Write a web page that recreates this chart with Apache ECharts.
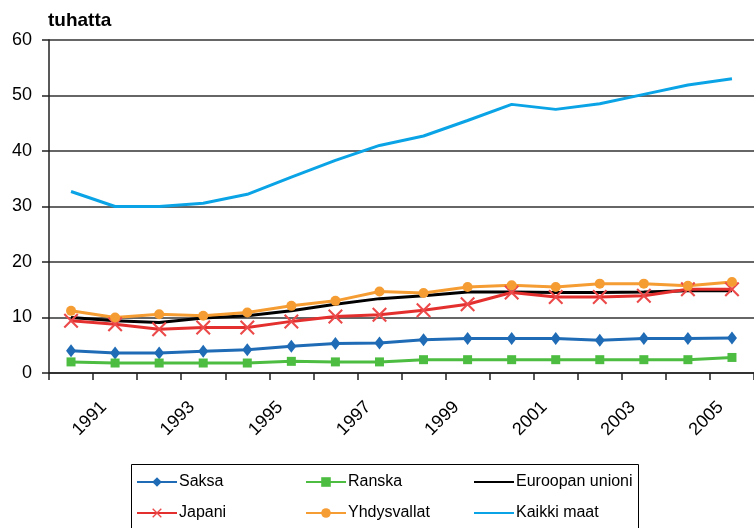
<!DOCTYPE html>
<html>
<head>
<meta charset="utf-8">
<script src="https://cdn.jsdelivr.net/npm/echarts@6/dist/echarts.min.js"></script>
<style>
  html, body { margin: 0; padding: 0; background: #fff; }
  #chart { width: 754px; height: 528px; }
</style>
</head>
<body>
<div id="chart"></div>
<script>
const years = ['1990','1991','1992','1993','1994','1995','1996','1997','1998','1999','2000','2001','2002','2003','2004','2005'];
const shownYearLabels = ['1991','1993','1995','1997','1999','2001','2003','2005'];
const yTicks = [0, 10, 20, 30, 40, 50, 60];

const saksa       = [4.0, 3.6, 3.6, 3.9, 4.2, 4.8, 5.3, 5.4, 6.0, 6.2, 6.2, 6.2, 5.9, 6.2, 6.2, 6.3];
const ranska      = [2.0, 1.8, 1.8, 1.8, 1.8, 2.1, 2.0, 2.0, 2.4, 2.4, 2.4, 2.4, 2.4, 2.4, 2.4, 2.8];
const euroopanUnioni = [10.0, 9.4, 9.1, 9.9, 10.3, 11.2, 12.4, 13.4, 13.9, 14.6, 14.6, 14.5, 14.5, 14.6, 14.8, 14.8];
const japani      = [9.4, 8.8, 7.9, 8.2, 8.2, 9.3, 10.2, 10.5, 11.3, 12.4, 14.5, 13.7, 13.7, 13.9, 15.1, 15.1];
const yhdysvallat = [11.2, 10.0, 10.6, 10.3, 10.9, 12.1, 13.0, 14.7, 14.4, 15.5, 15.8, 15.5, 16.1, 16.1, 15.7, 16.4];
const kaikkiMaat  = [32.7, 30.0, 30.0, 30.6, 32.2, 35.3, 38.3, 41.0, 42.7, 45.5, 48.4, 47.5, 48.5, 50.2, 51.9, 53.0];

const seriesNames = ['Saksa', 'Ranska', 'Euroopan unioni', 'Japani', 'Yhdysvallat', 'Kaikki maat'];

const FONT = '"Liberation Sans", Arial, sans-serif';
const xPath = 'path://M0,1L1,0L5,4L9,0L10,1L6,5L10,9L9,10L5,6L1,10L0,9L4,5Z';

const chart = echarts.init(document.getElementById('chart'), null, { renderer: 'canvas' });

function mkLegend(name, left, top, noMarker) {
  const lg = {
    data: [name], left: left, top: top, padding: 0,
    itemWidth: 40, itemHeight: 12, itemGap: 0,
    textStyle: { fontFamily: FONT, fontSize: 16, color: '#000', padding: [0, 0, 0, -3] },
    selectedMode: false
  };
  if (noMarker) lg.itemStyle = { opacity: 0 };
  return lg;
}

const option = {
  animation: false,
  backgroundColor: '#fff',
  title: {
    text: 'tuhatta', left: 48, top: 11, padding: 0,
    textStyle: { fontFamily: FONT, fontSize: 19, fontWeight: 'bold', color: '#000' }
  },
  legend: [
    mkLegend(seriesNames[0], 136, 474),
    mkLegend(seriesNames[1], 305, 474),
    mkLegend(seriesNames[2], 473, 474, true),
    mkLegend(seriesNames[3], 136, 505),
    mkLegend(seriesNames[4], 305, 505),
    mkLegend(seriesNames[5], 473, 505, true)
  ],
  graphic: [{
    type: 'rect', silent: true,
    shape: { x: 131.5, y: 464.5, width: 507, height: 80 },
    style: { fill: 'none', stroke: '#000', lineWidth: 1 }
  }],
  grid: { left: 49, top: 40, width: 711, height: 333 },
  xAxis: {
    type: 'category', data: years, boundaryGap: true,
    axisLine: { lineStyle: { color: '#222', width: 1.5 } },
    axisTick: { show: true, interval: 0, length: 7, lineStyle: { color: '#222', width: 1.5 } },
    axisLabel: {
      interval: 0, rotate: 45, margin: 20,
      fontFamily: FONT, fontSize: 18, color: '#000',
      padding: [0, 16, 0, 0],
      formatter: v => shownYearLabels.includes(v) ? v : ''
    },
    splitLine: { show: false }
  },
  yAxis: {
    type: 'value', min: yTicks[0], max: yTicks[yTicks.length - 1], interval: 10,
    axisLine: { show: true, lineStyle: { color: '#222', width: 1.5 } },
    axisTick: { show: true, length: 7, lineStyle: { color: '#222', width: 1.5 } },
    axisLabel: { margin: 17, fontFamily: FONT, fontSize: 18, color: '#000' },
    splitLine: { show: true, lineStyle: { color: '#333', width: 1.5 } }
  },
  series: [
    { name: seriesNames[0], type: 'line', data: saksa, symbol: 'diamond', symbolSize: [10, 13],
      lineStyle: { color: '#1f6bb5', width: 3 }, itemStyle: { color: '#1f6bb5' }, z: 3 },
    { name: seriesNames[1], type: 'line', data: ranska, symbol: 'rect', symbolSize: 9,
      lineStyle: { color: '#4dbd42', width: 3 }, itemStyle: { color: '#4dbd42' }, z: 3 },
    { name: seriesNames[2], type: 'line', data: euroopanUnioni, symbol: 'none', showSymbol: false,
      lineStyle: { color: '#000', width: 3 }, itemStyle: { color: '#000' }, z: 3 },
    { name: seriesNames[3], type: 'line', data: japani, symbol: xPath, symbolSize: 15,
      lineStyle: { color: '#e3302f', width: 3 }, itemStyle: { color: '#ec4a4a' }, z: 3 },
    { name: seriesNames[4], type: 'line', data: yhdysvallat, symbol: 'circle', symbolSize: 10,
      lineStyle: { color: '#f59c33', width: 3 }, itemStyle: { color: '#f59c33' }, z: 3 },
    { name: seriesNames[5], type: 'line', data: kaikkiMaat, symbol: 'none', showSymbol: false,
      lineStyle: { color: '#0aa4e6', width: 3 }, itemStyle: { color: '#0aa4e6' }, z: 3 }
  ]
};
chart.setOption(option);
</script>
</body>
</html>
